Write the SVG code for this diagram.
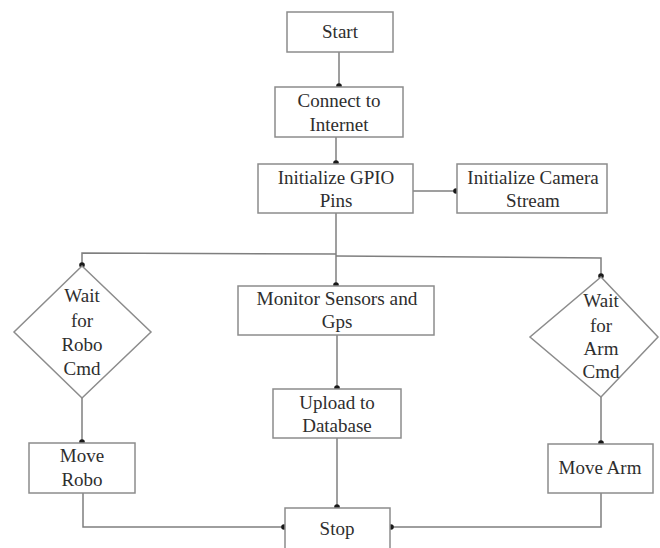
<svg xmlns="http://www.w3.org/2000/svg" width="660" height="548" viewBox="0 0 660 548" font-family="Liberation Serif, Times New Roman, DejaVu Serif, serif">
<style>
.box{fill:#fff;stroke:#8c8c8c;stroke-width:1.5}
text{font-family:"Liberation Serif","DejaVu Serif",serif;font-size:19px;fill:#2e2e2e;text-anchor:middle}
.c{fill:none;stroke:#7f7f7f;stroke-width:1.5}
</style>
<defs>
<marker id="dot" viewBox="0 0 8 8" refX="4" refY="4" markerWidth="8" markerHeight="8" markerUnits="userSpaceOnUse">
<circle cx="4" cy="4" r="2.8" fill="#1a1a1a"/>
</marker>
</defs>
<rect width="660" height="548" fill="#fff"/>
<g id="connectors">
<path class="c" d="M339 52V86" marker-end="url(#dot)"/>
<path class="c" d="M336 137V163" marker-end="url(#dot)"/>
<path class="c" d="M413 191H456" marker-end="url(#dot)"/>
<path class="c" d="M336 213V285" marker-end="url(#dot)"/>
<path class="c" d="M336 254L82 253V265" marker-end="url(#dot)"/>
<path class="c" d="M336 256L601 258V276" marker-end="url(#dot)"/>
<path class="c" d="M337 335V388" marker-end="url(#dot)"/>
<path class="c" d="M337 438V507" marker-end="url(#dot)"/>
<path class="c" d="M82 398V442" marker-end="url(#dot)"/>
<path class="c" d="M601 397V443" marker-end="url(#dot)"/>
<path class="c" d="M83 493V527H284" marker-end="url(#dot)"/>
<path class="c" d="M601 493V527H391" marker-end="url(#dot)"/>
</g>
<g id="start">
<rect class="box" x="287" y="12" width="106" height="40"/>
<text x="340" y="38">Start</text>
</g>
<g id="connect">
<rect class="box" x="275" y="87" width="128" height="50"/>
<text x="339" y="107">Connect to</text>
<text x="339" y="131">Internet</text>
</g>
<g id="gpio">
<rect class="box" x="258" y="164" width="155" height="49"/>
<text x="336" y="184">Initialize GPIO</text>
<text x="336" y="207">Pins</text>
</g>
<g id="camera">
<rect class="box" x="457" y="164" width="150" height="49"/>
<text x="533" y="184">Initialize Camera</text>
<text x="533" y="207">Stream</text>
</g>
<g id="robocmd">
<polygon class="box" points="82,266 151,332 82,398 14,332"/>
<text x="82" y="302">Wait</text>
<text x="82" y="327">for</text>
<text x="82" y="351">Robo</text>
<text x="82" y="375">Cmd</text>
</g>
<g id="monitor">
<rect class="box" x="238" y="286" width="196" height="49"/>
<text x="337" y="305" textLength="161" lengthAdjust="spacingAndGlyphs">Monitor Sensors and</text>
<text x="337" y="328">Gps</text>
</g>
<g id="armcmd">
<polygon class="box" points="601,277 658,337 601,397 530,337"/>
<text x="601" y="307">Wait</text>
<text x="601" y="332">for</text>
<text x="601" y="355">Arm</text>
<text x="601" y="378">Cmd</text>
</g>
<g id="upload">
<rect class="box" x="273" y="389" width="128" height="49"/>
<text x="337" y="409">Upload to</text>
<text x="337" y="432">Database</text>
</g>
<g id="moverobo">
<rect class="box" x="29" y="443" width="106" height="50"/>
<text x="82" y="462">Move</text>
<text x="82" y="486">Robo</text>
</g>
<g id="movearm">
<rect class="box" x="548" y="444" width="105" height="49"/>
<text x="600" y="474">Move Arm</text>
</g>
<g id="stop">
<rect class="box" x="285" y="508" width="105" height="46"/>
<text x="337" y="535">Stop</text>
</g>
</svg>
